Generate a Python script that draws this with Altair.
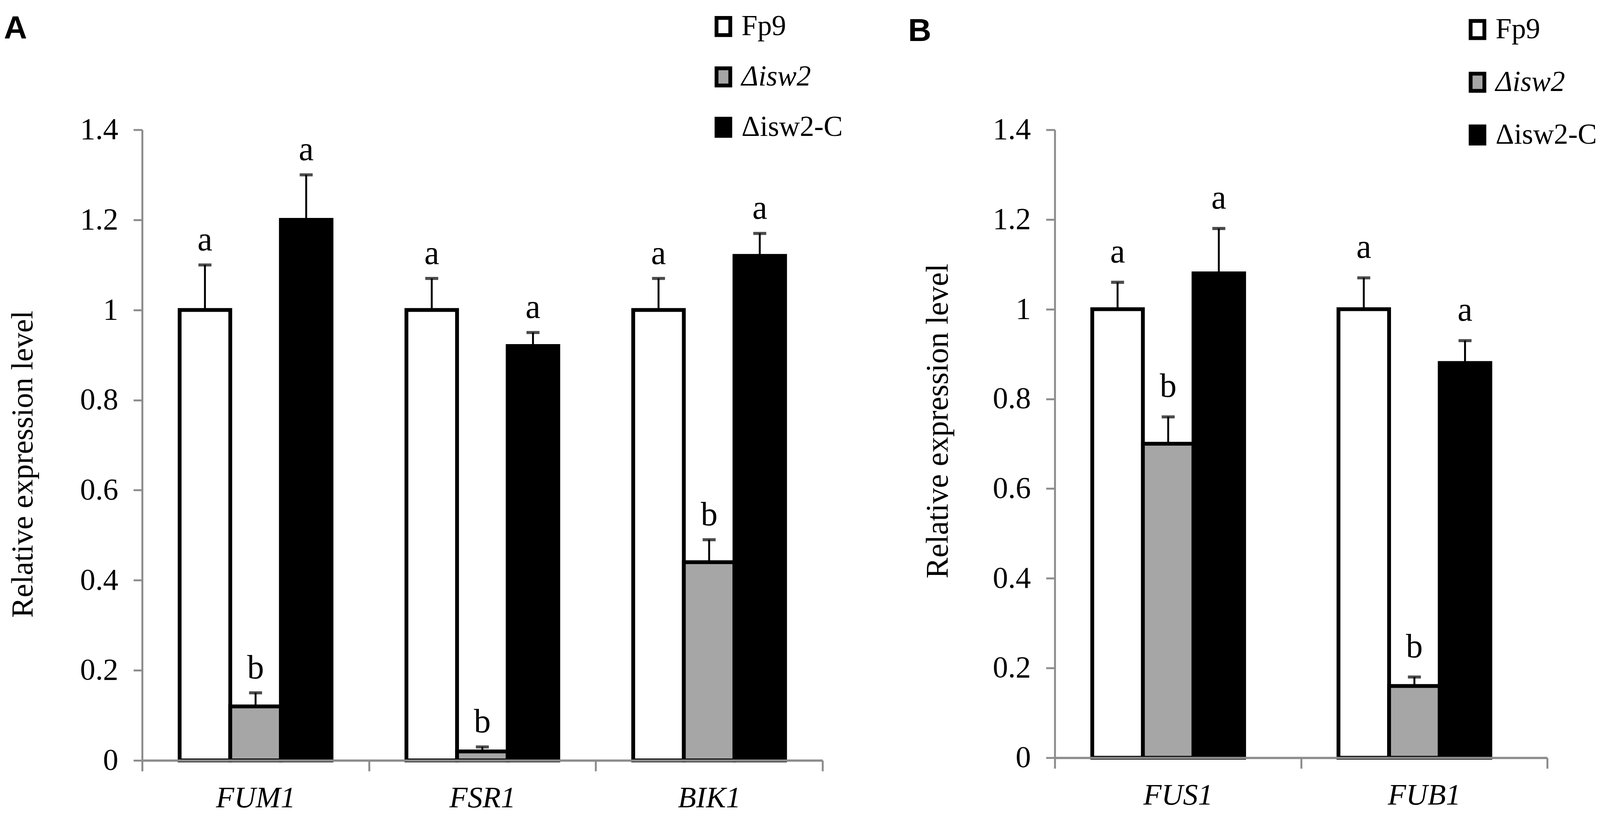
import altair as alt
import pandas as pd

# ---------------- data ----------------
strains = ["Fp9", "Δisw2", "Δisw2-C"]
strain_colors = ["white", "#a6a6a6", "black"]

genes_a = ["FUM1", "FSR1", "BIK1"]
mean_a_fp9 = [1.00, 1.00, 1.00]
mean_a_isw2 = [0.12, 0.02, 0.44]
mean_a_comp = [1.20, 0.92, 1.12]
err_a_fp9 = [0.10, 0.07, 0.07]
err_a_isw2 = [0.03, 0.01, 0.05]
err_a_comp = [0.10, 0.03, 0.05]
let_a_fp9 = ["a", "a", "a"]
let_a_isw2 = ["b", "b", "b"]
let_a_comp = ["a", "a", "a"]

genes_b = ["FUS1", "FUB1"]
mean_b_fp9 = [1.00, 1.00]
mean_b_isw2 = [0.70, 0.16]
mean_b_comp = [1.08, 0.88]
err_b_fp9 = [0.06, 0.07]
err_b_isw2 = [0.06, 0.02]
err_b_comp = [0.10, 0.05]
let_b_fp9 = ["a", "a"]
let_b_isw2 = ["b", "b"]
let_b_comp = ["a", "a"]

y_ticks = [0, 0.2, 0.4, 0.6, 0.8, 1.0, 1.2, 1.4]
Y_TITLE = "Relative expression level"

SERIF = "Liberation Serif"
SANS = "Liberation Sans"
GRAY = "#8c8c8c"


def make_df(genes, means, errs, lets):
    rows = []
    for s, m, e, l in zip(strains, means, errs, lets):
        for g, mv, ev, lv in zip(genes, m, e, l):
            rows.append({"gene": g, "strain": s, "mean": mv, "err": ev,
                         "top": round(mv + ev, 4), "letter": lv})
    return pd.DataFrame(rows)


df_a = make_df(genes_a, [mean_a_fp9, mean_a_isw2, mean_a_comp],
               [err_a_fp9, err_a_isw2, err_a_comp],
               [let_a_fp9, let_a_isw2, let_a_comp])
df_b = make_df(genes_b, [mean_b_fp9, mean_b_isw2, mean_b_comp],
               [err_b_fp9, err_b_isw2, err_b_comp],
               [let_b_fp9, let_b_isw2, let_b_comp])


def panel(df, genes, width, height, letter, letter_dx, letter_dy,
          leg_x, leg_y, leg_rowpad, title_x, title_y, title_size, text_dy):
    yscale = alt.Scale(domain=[0, 1.4], nice=False, zero=True)
    base = alt.Chart(df).encode(
        x=alt.X("gene:N", sort=genes,
                scale=alt.Scale(paddingInner=0, paddingOuter=0),
                axis=alt.Axis(title=None, labelAngle=0, labelFont=SERIF,
                              labelFontStyle="italic", labelFontSize=78,
                              labelColor="black", labelPadding=32,
                              labelLimit=600,
                              domainColor=GRAY, domainWidth=6,
                              tickColor=GRAY, tickWidth=5, tickSize=28,
                              tickBand="extent", zindex=1)),
        xOffset=alt.XOffset("strain:N", sort=strains,
                            scale=alt.Scale(paddingInner=0, paddingOuter=0.74)),
    )
    bars = base.mark_bar(stroke="black", strokeWidth=10).encode(
        y=alt.Y("mean:Q", scale=yscale, title=Y_TITLE,
                axis=alt.Axis(values=y_ticks, format="~g", grid=False,
                              domainColor=GRAY, domainWidth=5,
                              tickColor=GRAY, tickWidth=5, tickSize=23,
                              labelFont=SERIF, labelFontSize=80,
                              labelColor="black", labelPadding=40,
                              titleFont=SERIF, titleFontSize=title_size,
                              titleFontWeight="normal", titleColor="black",
                              titleAngle=270, titleBaseline="bottom",
                              titleAlign="center", titleLimit=2000,
                              titleX=title_x, titleY=title_y)),
        fill=alt.Fill("strain:N", sort=strains,
                      scale=alt.Scale(domain=strains, range=strain_colors),
                      legend=alt.Legend(
                          title=None, orient="none",
                          legendX=leg_x, legendY=leg_y,
                          direction="vertical", padding=0,
                          symbolType="M-0.8,-1H0.8V1H-0.8Z",
                          symbolSize=2025, symbolStrokeColor="black",
                          symbolStrokeWidth=10, symbolOpacity=1,
                          labelFont=SERIF, labelFontSize=75,
                          labelColor="black", labelOffset=10,
                          labelLimit=800,
                          labelFontStyle=alt.ExprRef(
                              "datum.value == 'Δisw2' ? 'italic' : 'normal'"),
                          rowPadding=leg_rowpad)),
    )
    rules = base.mark_rule(color="black", strokeWidth=5).encode(
        y=alt.Y("mean:Q", scale=yscale, title=Y_TITLE), y2="top:Q")
    caps = base.mark_tick(color="black", size=34, thickness=8).encode(
        y=alt.Y("top:Q", scale=yscale, title=Y_TITLE))
    text = base.mark_text(dy=text_dy, baseline="alphabetic", font=SERIF,
                          fontSize=88, color="black").encode(
        y=alt.Y("top:Q", scale=yscale, title=Y_TITLE), text="letter:N")
    return alt.layer(bars, rules, caps, text).properties(
        width=width, height=height,
        title=alt.TitleParams(text=letter, anchor="start", frame="group",
                              font=SANS, fontWeight="bold", fontSize=84,
                              color="black", dx=letter_dx, dy=letter_dy),
    )


pa = panel(df_a, genes_a, 1781, 1651, "A", -362, 90,
           1484, -308, 47, -271, 875, 80, -38)
pb = panel(df_b, genes_b, 1289, 1644, "B", -384, 90,
           1069, -300, 53, -264, 762, 82, -52)

chart = alt.hconcat(pa, pb, spacing=608, bounds="flush").resolve_legend(
    fill="independent"
).properties(
    padding={"left": 2, "top": 0, "right": 0, "bottom": 0}
).configure_view(stroke=None)

chart.save("out.html", embed_options={"renderer": "svg", "actions": False})
